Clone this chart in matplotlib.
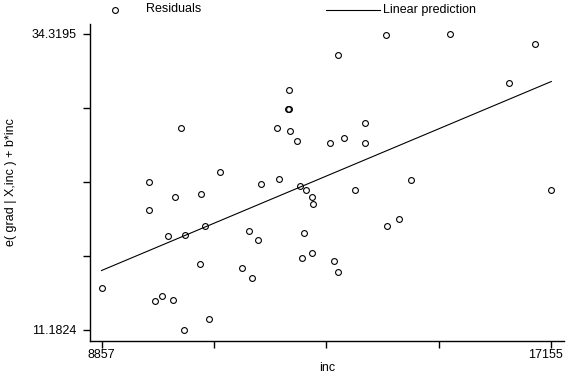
#!/usr/bin/env python3
"""
Component-plus-residual plot of grad against inc.
"""

import numpy as np
import matplotlib
matplotlib.use("Agg")
import matplotlib.pyplot as plt
from matplotlib.lines import Line2D
from matplotlib.transforms import ScaledTranslation

# income per state
inc = [8857, 9729, 9729, 9853, 9976, 10080, 10185, 10222, 10327, 10388,
       10406, 10683, 10701, 10762, 10836, 11051, 11457, 11581, 11636, 11747,
       11807, 12097, 12139, 12292, 12324, 12324, 12342, 12466, 12527, 12563,
       12600, 12632, 12742, 12761, 12742, 13080, 13148, 13222, 13227, 13325,
       13541, 13712, 13712, 14112, 14125, 14347, 14573, 15293, 16381, 16860,
       17155]

# e(grad | X,inc) + b*inc
cpr = [14.49, 22.77, 20.56, 13.47, 13.86, 18.51, 13.55, 21.60, 27.00, 11.1824,
       18.63, 16.36, 21.84, 19.34, 12.02, 23.51, 16.05, 18.94, 15.22, 18.22,
       22.62, 27.00, 23.01, 28.43, 28.48, 29.94, 26.74, 25.93, 22.44, 16.81,
       18.79, 22.13, 21.60, 21.05, 17.22, 25.82, 16.60, 32.68, 15.74, 26.17,
       22.13, 27.39, 25.82, 34.24, 19.31, 19.84, 22.88, 34.3195, 30.49, 33.54,
       22.10]

x_ticks = [8857, 17155]
y_ticks = [11.1824, 34.3195]
x_tick_labels = ["8857", "17155"]
y_tick_labels = ["11.1824", "34.3195"]

FONT = ["Liberation Sans", "DejaVu Sans"]


def main():
    plt.rcParams["font.family"] = FONT
    x = np.array(inc, dtype=float)
    y = np.array(cpr, dtype=float)

    fig = plt.figure(figsize=(5.76, 3.84), dpi=100)
    W, H = 576.0, 384.0
    left, right, top, bottom = 90, 564, 24, 341
    ax = fig.add_axes([left / W, (H - bottom) / H, (right - left) / W, (bottom - top) / H])

    # map tick range onto the pixel frame
    xpx0, xpx1 = 101.5, 551.3
    ypx0, ypx1 = 330.0, 34.0
    xs = (x_ticks[1] - x_ticks[0]) / (xpx1 - xpx0)
    ys = (y_ticks[1] - y_ticks[0]) / (ypx0 - ypx1)
    ax.set_xlim(x_ticks[0] - (xpx0 - left) * xs, x_ticks[1] + (right - xpx1) * xs)
    ax.set_ylim(y_ticks[0] - (bottom - ypx0) * ys, y_ticks[1] + (ypx1 - top) * ys)

    # residual points
    ax.plot(x, y, linestyle="none", marker="o", markersize=4.2,
            markerfacecolor="none", markeredgecolor="black", markeredgewidth=0.8)

    # linear prediction
    b, a = np.polyfit(x, y, 1)
    xx = np.sort(x)
    ax.plot(xx, a + b * xx, color="black", linewidth=0.8)

    # ticks: labelled ends plus three unlabelled in between
    xt = np.linspace(x_ticks[0], x_ticks[1], 5)
    yt = np.linspace(y_ticks[0], y_ticks[1], 5)
    ax.set_xticks(xt)
    ax.set_xticklabels([x_tick_labels[0], "", "", "", x_tick_labels[1]])
    ax.set_yticks(yt)
    ax.set_yticklabels([y_tick_labels[0], "", "", "", y_tick_labels[1]])
    ax.tick_params(direction="out", length=5, width=1, labelsize=9, colors="black")
    ax.tick_params(axis="x", pad=0.5)
    ax.tick_params(axis="y", pad=5)

    # last x label sits left of its tick, ending near the axis end
    last = ax.get_xticklabels()[-1]
    last.set_horizontalalignment("right")
    last.set_transform(last.get_transform() + ScaledTranslation(12 / 100, 0, fig.dpi_scale_trans))

    for side in ("top", "right"):
        ax.spines[side].set_visible(False)
    for side in ("left", "bottom"):
        ax.spines[side].set_linewidth(1.0)

    ax.set_xlabel("inc", fontsize=9, labelpad=1)
    ax.set_ylabel("e( grad | X,inc ) + b*inc", fontsize=9, labelpad=10)

    # legend above the plot region
    ly = 1 - 9.5 / H
    fig.add_artist(Line2D([115 / W], [ly], marker="o", markersize=4.2,
                          markerfacecolor="none", markeredgecolor="black",
                          markeredgewidth=0.8, linestyle="none"))
    fig.text(146 / W, ly, "Residuals", fontsize=9, va="center", ha="left")
    fig.add_artist(Line2D([326 / W, 380 / W], [ly, ly], color="black", linewidth=0.8))
    fig.text(383 / W, ly, "Linear prediction", fontsize=9, va="center", ha="left")

    fig.savefig("out.png", dpi=100, facecolor="white")
    plt.close(fig)


if __name__ == "__main__":
    main()
